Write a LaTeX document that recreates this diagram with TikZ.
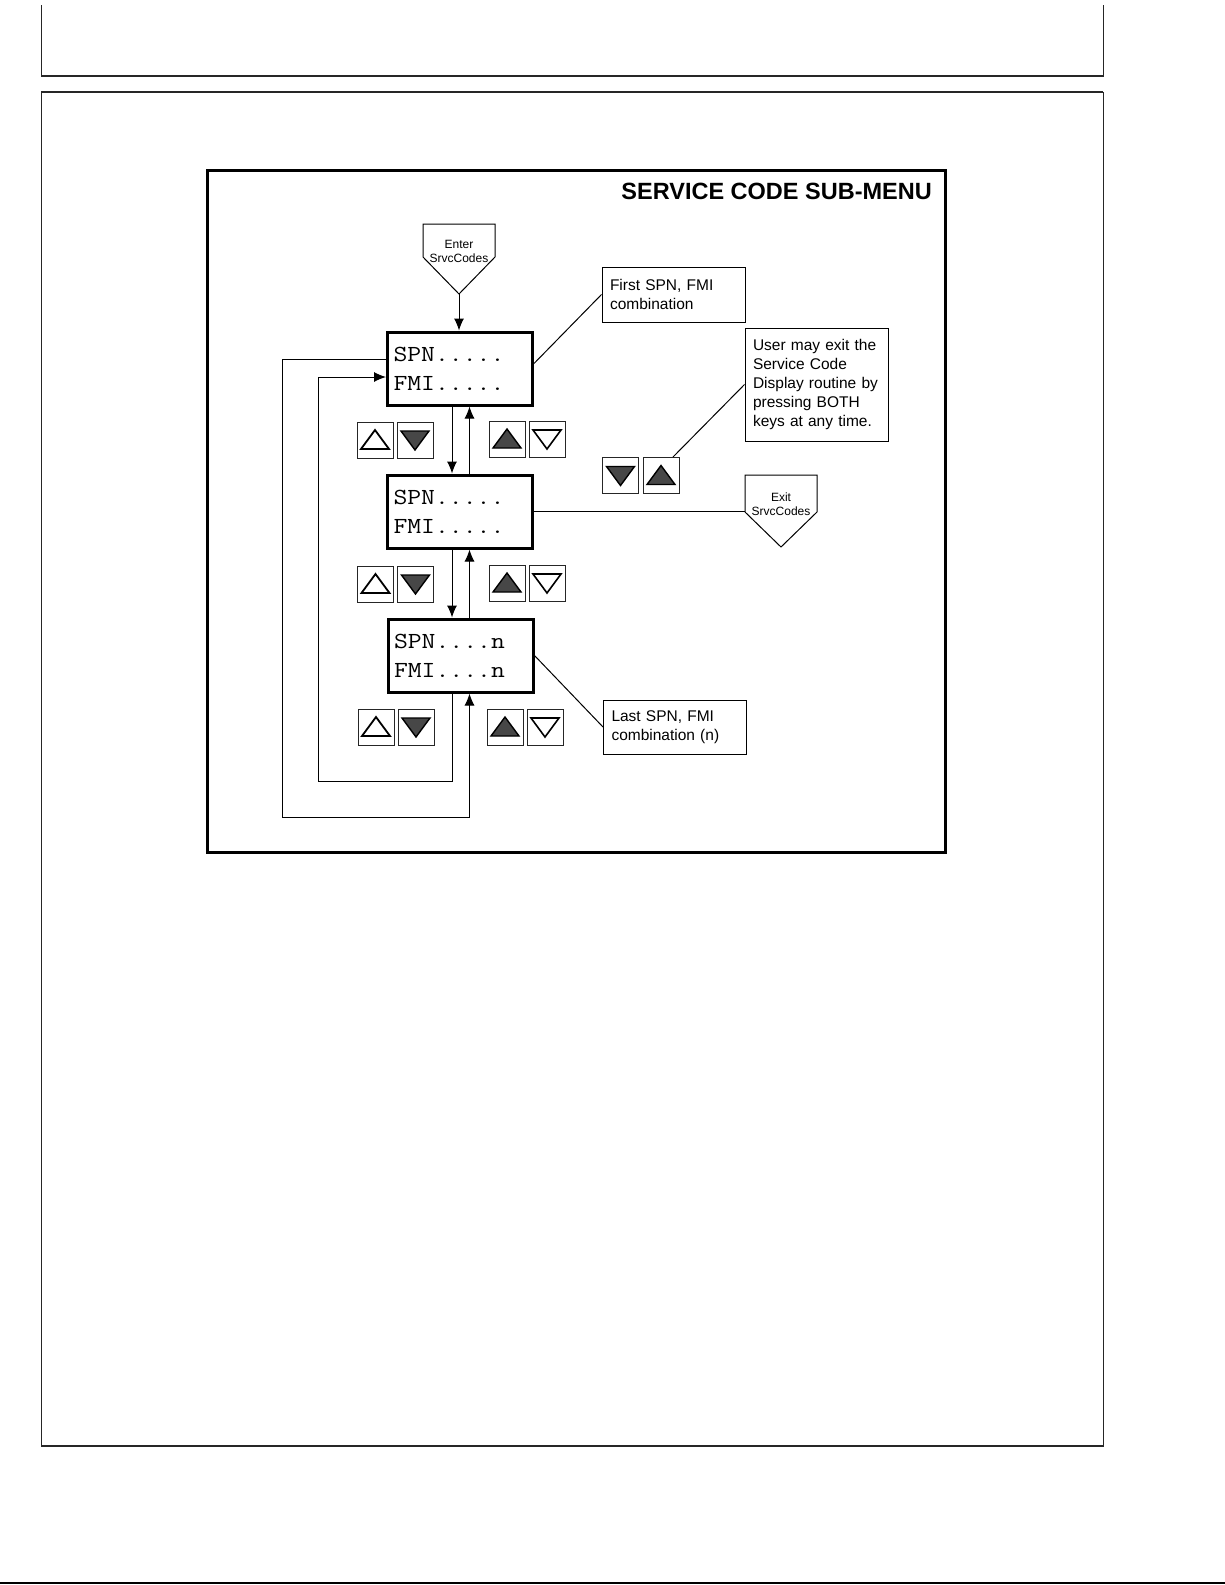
\documentclass[tikz,border=0pt]{standalone}
\usepackage{fontspec}
\usepackage{graphicx}
\setmainfont{Liberation Sans}
\usetikzlibrary{arrows.meta,calc}
\newcommand\lcdtxt[1]{\scalebox{1.17}[1]{#1}}
\begin{document}
\begin{tikzpicture}[x=1pt,y=-1pt,
  pageline/.style={draw=black!85,line width=1pt},
  thinline/.style={line width=1pt},
  arr/.style={line width=1pt,-{Latex[length=12pt,width=10pt]}},
  lcd/.style={draw,line width=3pt,minimum width=145pt,minimum height=73pt,inner xsep=5pt,inner ysep=0pt,text width=133pt,align=left,font=\fontsize{23}{29}\selectfont\ttfamily},
  notebox/.style={draw,line width=1pt,inner xsep=8pt,inner ysep=0pt,align=left,text width=127pt,font=\fontsize{15.5}{19}\selectfont},
  keybox/.style={draw=black!85,line width=1pt,minimum size=36pt,inner sep=0pt},
  smalltext/.style={align=center,font=\fontsize{12}{14}\selectfont,inner sep=0pt},
  upopen/.pic={\draw[line width=1.8pt,line join=miter] (-14,9) -- (14,9) -- (0,-10) -- cycle;},
  downopen/.pic={\draw[line width=1.6pt,line join=miter] (-14,-9) -- (14,-9) -- (0,10) -- cycle;},
  upfill/.pic={\draw[line width=1.4pt,line join=miter,fill=black!72] (-14,9) -- (14,9) -- (0,-10) -- cycle;},
  downfill/.pic={\draw[line width=1.4pt,line join=miter,fill=black!72] (-14,-9) -- (14,-9) -- (0,10) -- cycle;}
]
\useasboundingbox (0,0) rectangle (1225,1585);
\fill[white] (0,0) rectangle (1225,1585);

% page frames
\draw[pageline] (41,5) -- (41,76) -- (1103,76) -- (1103,5);
\draw[pageline,line width=1.5pt] (41,76) -- (1103,76);
\draw[pageline] (41,92) rectangle (1103,1446);
\draw[pageline,line width=1.5pt] (41,92) -- (1103,92);
\draw[pageline,line width=1.5pt] (41,1446) -- (1103,1446);
\draw[black,line width=2pt] (0,1583) -- (1225,1583);

% diagram frame
\draw[line width=3pt] (207,170) rectangle (945,852);
\node[anchor=base east,inner sep=0pt,font=\fontsize{23.5}{28}\selectfont\bfseries] (title) at (932,199) {SERVICE CODE SUB-MENU};

% enter pentagon
\draw[thinline] (423,224) -- (495,224) -- (495,257) -- (459,294) -- (423,257) -- cycle;
\node[smalltext] (enter) at (459,251) {Enter\\SrvcCodes};
\coordinate (enterTip) at (459,294);

% exit pentagon
\draw[thinline] (745,475) -- (817,475) -- (817,512) -- (781,547) -- (745,512) -- cycle;
\node[smalltext] (exit) at (781,504) {Exit\\SrvcCodes};
\coordinate (exitL) at (745,511);

% LCD boxes
\node[lcd] (b1) at (460,368.5) {\lcdtxt{SPN.....}\\\lcdtxt{FMI.....}};
\node[lcd] (b2) at (460,511.5) {\lcdtxt{SPN.....}\\\lcdtxt{FMI.....}};
\node[lcd] (b3) at (460.5,655.5) {\lcdtxt{SPN....n}\\\lcdtxt{FMI....n}};

\coordinate (xL) at (452,0);
\coordinate (xR) at (469.5,0);

% connectors
\draw[arr] (enterTip) -- (enterTip |- b1.north);
\draw[arr] (b1.south -| xL) -- (b2.north -| xL);
\draw[arr] (b2.north -| xR) -- (b1.south -| xR);
\draw[arr] (b2.south -| xL) -- (b3.north -| xL);
\draw[arr] (b3.north -| xR) -- (b2.south -| xR);
\coordinate (innerA) at (452,781);
\coordinate (innerB) at (318,781);
\coordinate (innerC) at (318,377);
\draw[arr] (b3.south -| xL) -- (innerA) -- (innerB) -- (innerC) -- (innerC -| b1.west);
\coordinate (outerA) at (282,359);
\coordinate (outerB) at (282,817);
\coordinate (outerC) at (469.5,817);
\draw[arr] (outerA -| b1.west) -- (outerA) -- (outerB) -- (outerC) -- (b3.south -| xR);
\draw[thinline] (b2.east |- exitL) -- (exitL);

% note boxes
\node[notebox,minimum height=55pt] (first) at (673.5,294.5) {First SPN, FMI\\combination};
\node[notebox,minimum height=113pt] (user) at (816.5,384.5) {User may exit the\\Service Code\\Display routine by\\pressing BOTH\\keys at any time.};
\node[notebox,minimum height=54pt] (last) at (675,727) {Last SPN, FMI\\combination (n)};

% keys
\node[keybox] (k1a) at (375,440) {};
\node[keybox] (k1b) at (415,440) {};
\node[keybox] (k1c) at (507,439) {};
\node[keybox] (k1d) at (547,439) {};
\pic at (k1a) {upopen};
\pic at (k1b) {downfill};
\pic at (k1c) {upfill};
\pic at (k1d) {downopen};

\node[keybox] (k2a) at (375.5,584) {};
\node[keybox] (k2b) at (415.5,584) {};
\node[keybox] (k2c) at (507,583) {};
\node[keybox] (k2d) at (547,583) {};
\pic at (k2a) {upopen};
\pic at (k2b) {downfill};
\pic at (k2c) {upfill};
\pic at (k2d) {downopen};

\node[keybox] (k3a) at (376,727) {};
\node[keybox] (k3b) at (416,727) {};
\node[keybox] (k3c) at (505,727) {};
\node[keybox] (k3d) at (545,727) {};
\pic at (k3a) {upopen};
\pic at (k3b) {downfill};
\pic at (k3c) {upfill};
\pic at (k3d) {downopen};

\node[keybox] (kx1) at (620.5,475.5) {};
\node[keybox] (kx2) at (661,475.5) {};
\pic at (kx1) {downfill};
\pic at (kx2) {upfill};

% leaders
\draw[thinline] ([yshift=5pt]b1.east) -- (first.west);
\draw[thinline] (user.west) -- ([xshift=12pt]kx2.north);
\draw[thinline] (b3.east) -- (last.west);
\end{tikzpicture}
\end{document}
